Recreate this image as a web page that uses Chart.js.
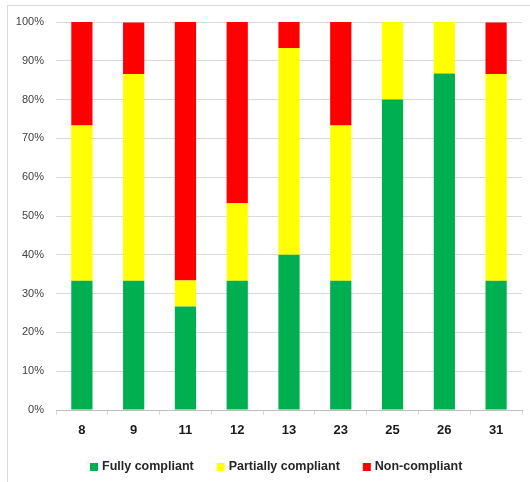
<!DOCTYPE html>
<html><head><meta charset="utf-8">
<script src="https://cdn.jsdelivr.net/npm/chart.js@4.4.1/dist/chart.umd.min.js"></script>
<style>
html,body{margin:0;padding:0;background:#fff;overflow:hidden;}
#wrap{position:relative;width:530px;height:482px;overflow:hidden;}
#frame{position:absolute;left:7px;top:5px;width:600px;height:600px;border:1px solid #d9d9d9;}
canvas{position:absolute;left:0;top:0;}
</style></head><body>
<div id="wrap"><div id="frame"></div><canvas id="c" width="530" height="482"></canvas></div>
<script>
// Share of items per compliance level, by question number (%)
const categories = ['8', '9', '11', '12', '13', '23', '25', '26', '31'];
const fullyCompliant     = [33.3, 33.3, 26.7, 33.3, 40.0, 33.3, 80.0, 86.7, 33.3];
const partiallyCompliant = [40.0, 53.3,  6.7, 20.0, 53.3, 40.0, 20.0, 13.3, 53.3];
const nonCompliant       = [26.7, 13.3, 66.7, 46.7,  6.7, 26.7,  0.0,  0.0, 13.3];
const seriesNames = ['Fully compliant', 'Partially compliant', 'Non-compliant'];
const seriesColors = ['#00B050', '#FFFF00', '#FF0000'];

const FONT = "'Liberation Sans', Arial, sans-serif";

// Legend row drawn under the axis labels
const bottomLegend = {
  id: 'bottomLegend',
  afterDraw(chart) {
    const ctx = chart.ctx;
    const box = 8, gapBoxText = 4, gapItems = 23, cy = 467, centerX = 276;
    ctx.save();
    ctx.font = 'bold 12.5px ' + FONT;
    ctx.textBaseline = 'middle';
    const items = chart.data.datasets.map(ds => ({
      label: ds.label, color: ds.backgroundColor,
      w: box + gapBoxText + ctx.measureText(ds.label).width
    }));
    const total = items.reduce((s, it) => s + it.w, 0) + gapItems * (items.length - 1);
    let x = Math.round(centerX - total / 2);
    items.forEach(it => {
      ctx.fillStyle = it.color;
      ctx.fillRect(x, cy - box / 2, box, box);
      ctx.fillStyle = '#262626';
      ctx.textAlign = 'left';
      ctx.fillText(it.label, x + box + gapBoxText, cy);
      x += it.w + gapItems;
    });
    ctx.restore();
  }
};

new Chart(document.getElementById('c'), {
  type: 'bar',
  data: {
    labels: categories,
    datasets: [
      { label: seriesNames[0], data: fullyCompliant, backgroundColor: seriesColors[0] },
      { label: seriesNames[1], data: partiallyCompliant, backgroundColor: seriesColors[1] },
      { label: seriesNames[2], data: nonCompliant, backgroundColor: seriesColors[2] }
    ]
  },
  options: {
    responsive: false,
    animation: false,
    devicePixelRatio: 1,
    layout: { padding: { top: 22, right: 8, left: 0, bottom: 0 } },
    datasets: { bar: { categoryPercentage: 1, barPercentage: 0.41, borderWidth: 0 } },
    plugins: { legend: { display: false }, tooltip: { enabled: false } },
    scales: {
      x: {
        stacked: true,
        grid: { display: true, drawOnChartArea: false, drawTicks: true, tickLength: 5, color: '#d9d9d9', offset: true },
        border: { display: true, color: '#bfbfbf' },
        ticks: { color: '#1a1a1a', font: { family: FONT, size: 13, weight: 'bold' }, padding: 8, maxRotation: 0 },
        afterFit(scale) { scale.height = 72; }
      },
      y: {
        stacked: true,
        min: 0, max: 100,
        grid: { color: '#d9d9d9', drawTicks: false },
        border: { display: false },
        ticks: { stepSize: 10, color: '#404040', font: { family: FONT, size: 11 }, padding: 12,
                 callback: v => v + '%' },
        afterFit(scale) { scale.width = 56; }
      }
    }
  },
  plugins: [bottomLegend]
});
</script>
</body></html>
